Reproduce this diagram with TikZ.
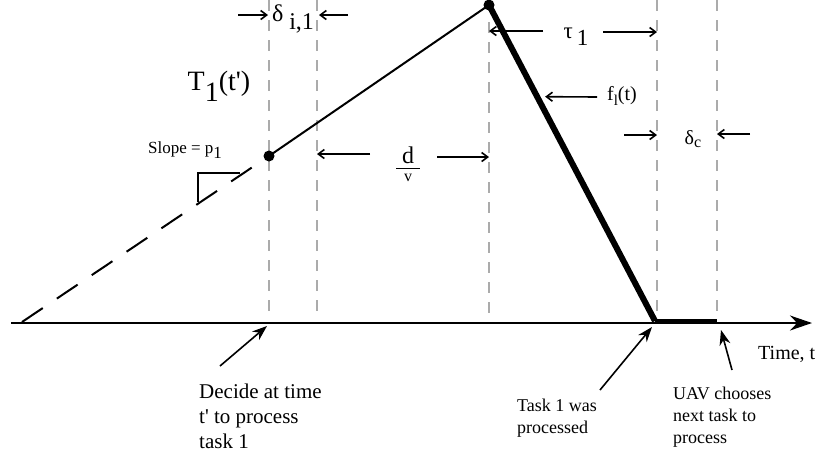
\documentclass[tikz,border=0pt]{standalone}
\usepackage{fontspec}
\setmainfont{Liberation Serif}
\usetikzlibrary{arrows.meta,calc}
\definecolor{kesikGri}{HTML}{ABABAB}
\newcommand{\altYaz}[2][0.3em]{\raisebox{-#1}{#2}}
\newcommand{\fs}[1]{\fontsize{#1}{#1}\selectfont}

\begin{document}
\begin{tikzpicture}[x=1pt,y=-1pt,
  olcu/.style={-{Straight Barb[length=6pt,width=9pt]},line width=1.6pt},
  isaret/.style={-{Stealth[length=15pt,width=11pt]},line width=1.6pt},
  etiket/.style={inner sep=0pt}]
\useasboundingbox (0,0) rectangle (820,456);
% kilavuz cizgiler
\foreach \x/\y [count=\i] in {269/0,317/0,489/22,657/0,717/0}{
  \coordinate (g\i) at (\x,323);
  \draw[kesikGri,line width=1.8pt,dash pattern=on 11pt off 9pt] (\x,\y)--(\x,313);
}
\draw[-{Stealth[length=22pt,width=15pt]},line width=1.8pt] (11,323)--(812,323);
\coordinate (basla) at (22,322);
\coordinate (karar) at (269,156);
\coordinate (tepe) at (489,5);
\coordinate (bitis) at (655,321);
\coordinate (secim) at (717,321);
\draw[line width=2pt,dash pattern=on 25pt off 17pt] (basla)--($(basla)!0.93!(karar)$);
\draw[line width=2pt] (karar)--(tepe);
\draw[line width=6pt] (tepe)--(bitis);
\draw[line width=4pt] (bitis)--(secim);
\fill (karar) circle (5.5pt);
\fill (tepe) circle (5.5pt);
\draw[line width=1.5pt] (198,202)--(198,173)--(240,173);
% etiketler
\node[etiket,font=\fs{28}] (T1) at (219,86) {T\altYaz[0.4em]{1}(t\textquotesingle)};
\node[etiket,font=\fs{17}] (egim) at (185,150) {Slope = p\altYaz{1}};
\node[etiket,font=\fs{24}] (dij) at (293,19) {δ \altYaz{i,1}};
\draw[olcu] ($(g1 |- dij)+(-31,-4)$) -- ($(g1 |- dij)+(-1,-4)$);
\draw[olcu] ($(g2 |- dij)+(31,-4)$) -- ($(g2 |- dij)+(2,-4)$);
\node[etiket,align=center] (dv) at (408,164) {\fs{24}d\\[-6pt]\rule{24pt}{1.3pt}\\[0pt]\fs{16}v};
\draw[olcu] (370,154) -- (g2 |- 0,154);
\draw[olcu] (437,157) -- (g3 |- 0,157);
\node[etiket,font=\fs{23}] (tau) at (576,37) {τ\,\altYaz{1}};
\draw[olcu] (543,31) -- (g3 |- 0,31);
\draw[olcu] (603,32) -- (g4 |- 0,32);
\node[etiket,font=\fs{20}] (fl) at (622,96) {f\altYaz[0.25em]{\fs{15}l}(t)};
\draw[olcu,shorten >=8pt] (597,97) -- ($(tepe)!0.29!(bitis)$);
\node[etiket,font=\fs{20}] (dc) at (693,139) {δ\altYaz[0.15em]{\fs{16}c}};
\draw[olcu] (624,135) -- (g4 |- 0,135);
\draw[olcu] (750,134) -- (g5 |- 0,134);
\node[etiket,font=\fs{20},anchor=base west] (zaman) at (758,359) {Time, t};
% alt aciklamalar
\node[etiket,align=left,font=\fontsize{21}{25}\selectfont,anchor=base west] (kararYazi) at (199,448) {Decide at time\\t\textquotesingle{} to process\\task 1};
\node[etiket,align=left,font=\fontsize{18}{22}\selectfont,anchor=base west] (islendi) at (517,433) {Task 1 was\\processed};
\node[etiket,align=left,font=\fontsize{18}{22}\selectfont,anchor=base west] (uav) at (673,443) {UAV chooses\\next task to\\process};
\coordinate (kararUc) at (220,366);
\coordinate (islendiUc) at (600,390);
\coordinate (uavUc) at (732,370);
\draw[isaret] (kararUc) -- (267,326);
\draw[isaret] (islendiUc) -- (652,327);
\draw[isaret] (uavUc) -- (721,330);
\end{tikzpicture}
\end{document}
